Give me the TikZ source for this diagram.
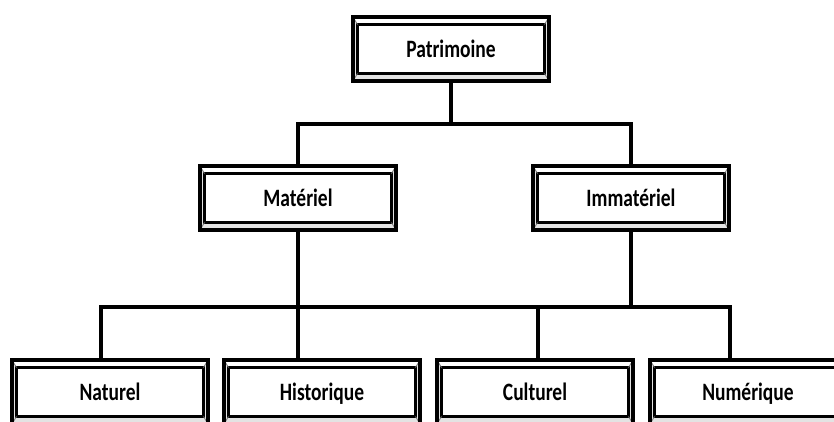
\documentclass[tikz,border=0pt]{standalone}
\usepackage{fontspec}
\newfontfamily\boxfont{Carlito}[FakeStretch=0.78]
\usetikzlibrary{calc}

\begin{document}
\begin{tikzpicture}[x=1pt, y=-1pt,
  box/.style={draw, line width=3.8pt, fill=gray!22, minimum width=196pt, minimum height=64pt,
    inner sep=0pt, text height=16.5pt, text depth=0.5pt,
    font=\boxfont\bfseries\fontsize{25}{28}\selectfont,
    path picture={
      \fill[white] (path picture bounding box.north west) -- (path picture bounding box.north east)
        -- ++(-4.5,7.5) -- ($(path picture bounding box.north west)+(4.5,7.5)$) -- cycle;
      \draw[fill=white, line width=3pt] ($(path picture bounding box.north west)+(4.5,7.5)$)
        rectangle ($(path picture bounding box.south east)+(-4.5,-7.5)$);
      \draw[gray, line width=0.8pt] (path picture bounding box.north west) -- ++(4.5,7.5);
      \draw[gray, line width=0.8pt] (path picture bounding box.north east) -- ++(-4.5,7.5);
      \draw[gray, line width=0.8pt] (path picture bounding box.south west) -- ++(4.5,-7.5);
      \draw[gray, line width=0.8pt] (path picture bounding box.south east) -- ++(-4.5,-7.5);
    }},
  link/.style={line width=4pt}]
  \path[use as bounding box, clip] (0,0) rectangle (834,421);

  % boxes
  \node[box] (pat) at (451,49) {Patrimoine};
  \node[box] (mat) at (298,198) {Matériel};
  \node[box] (imm) at (631,198) {Immatériel};
  \node[box] (nat) at (110,392) {Naturel};
  \node[box] (his) at (322,392) {Historique};
  \node[box] (cul) at (535,392) {Culturel};
  \node[box] (num) at (748,392) {Numérique};

  % first level
  \coordinate (j1) at (451,124);
  \draw[link] (pat.south) -- (j1);
  \draw[link] (mat.north) |- (j1) -| (imm.north);

  % second level
  \coordinate (j2l) at (101,307);
  \coordinate (j2c) at (538,307);
  \coordinate (j2r) at (730,307);
  \draw[link] (j2l |- nat.north) -- (j2l) -- (j2r) -- (j2r |- num.north);
  \draw[link] (mat.south) -- (mat.south |- his.north);
  \draw[link] (imm.south) -- (imm.south |- j2r);
  \draw[link] (j2c) -- (j2c |- cul.north);
\end{tikzpicture}
\end{document}
